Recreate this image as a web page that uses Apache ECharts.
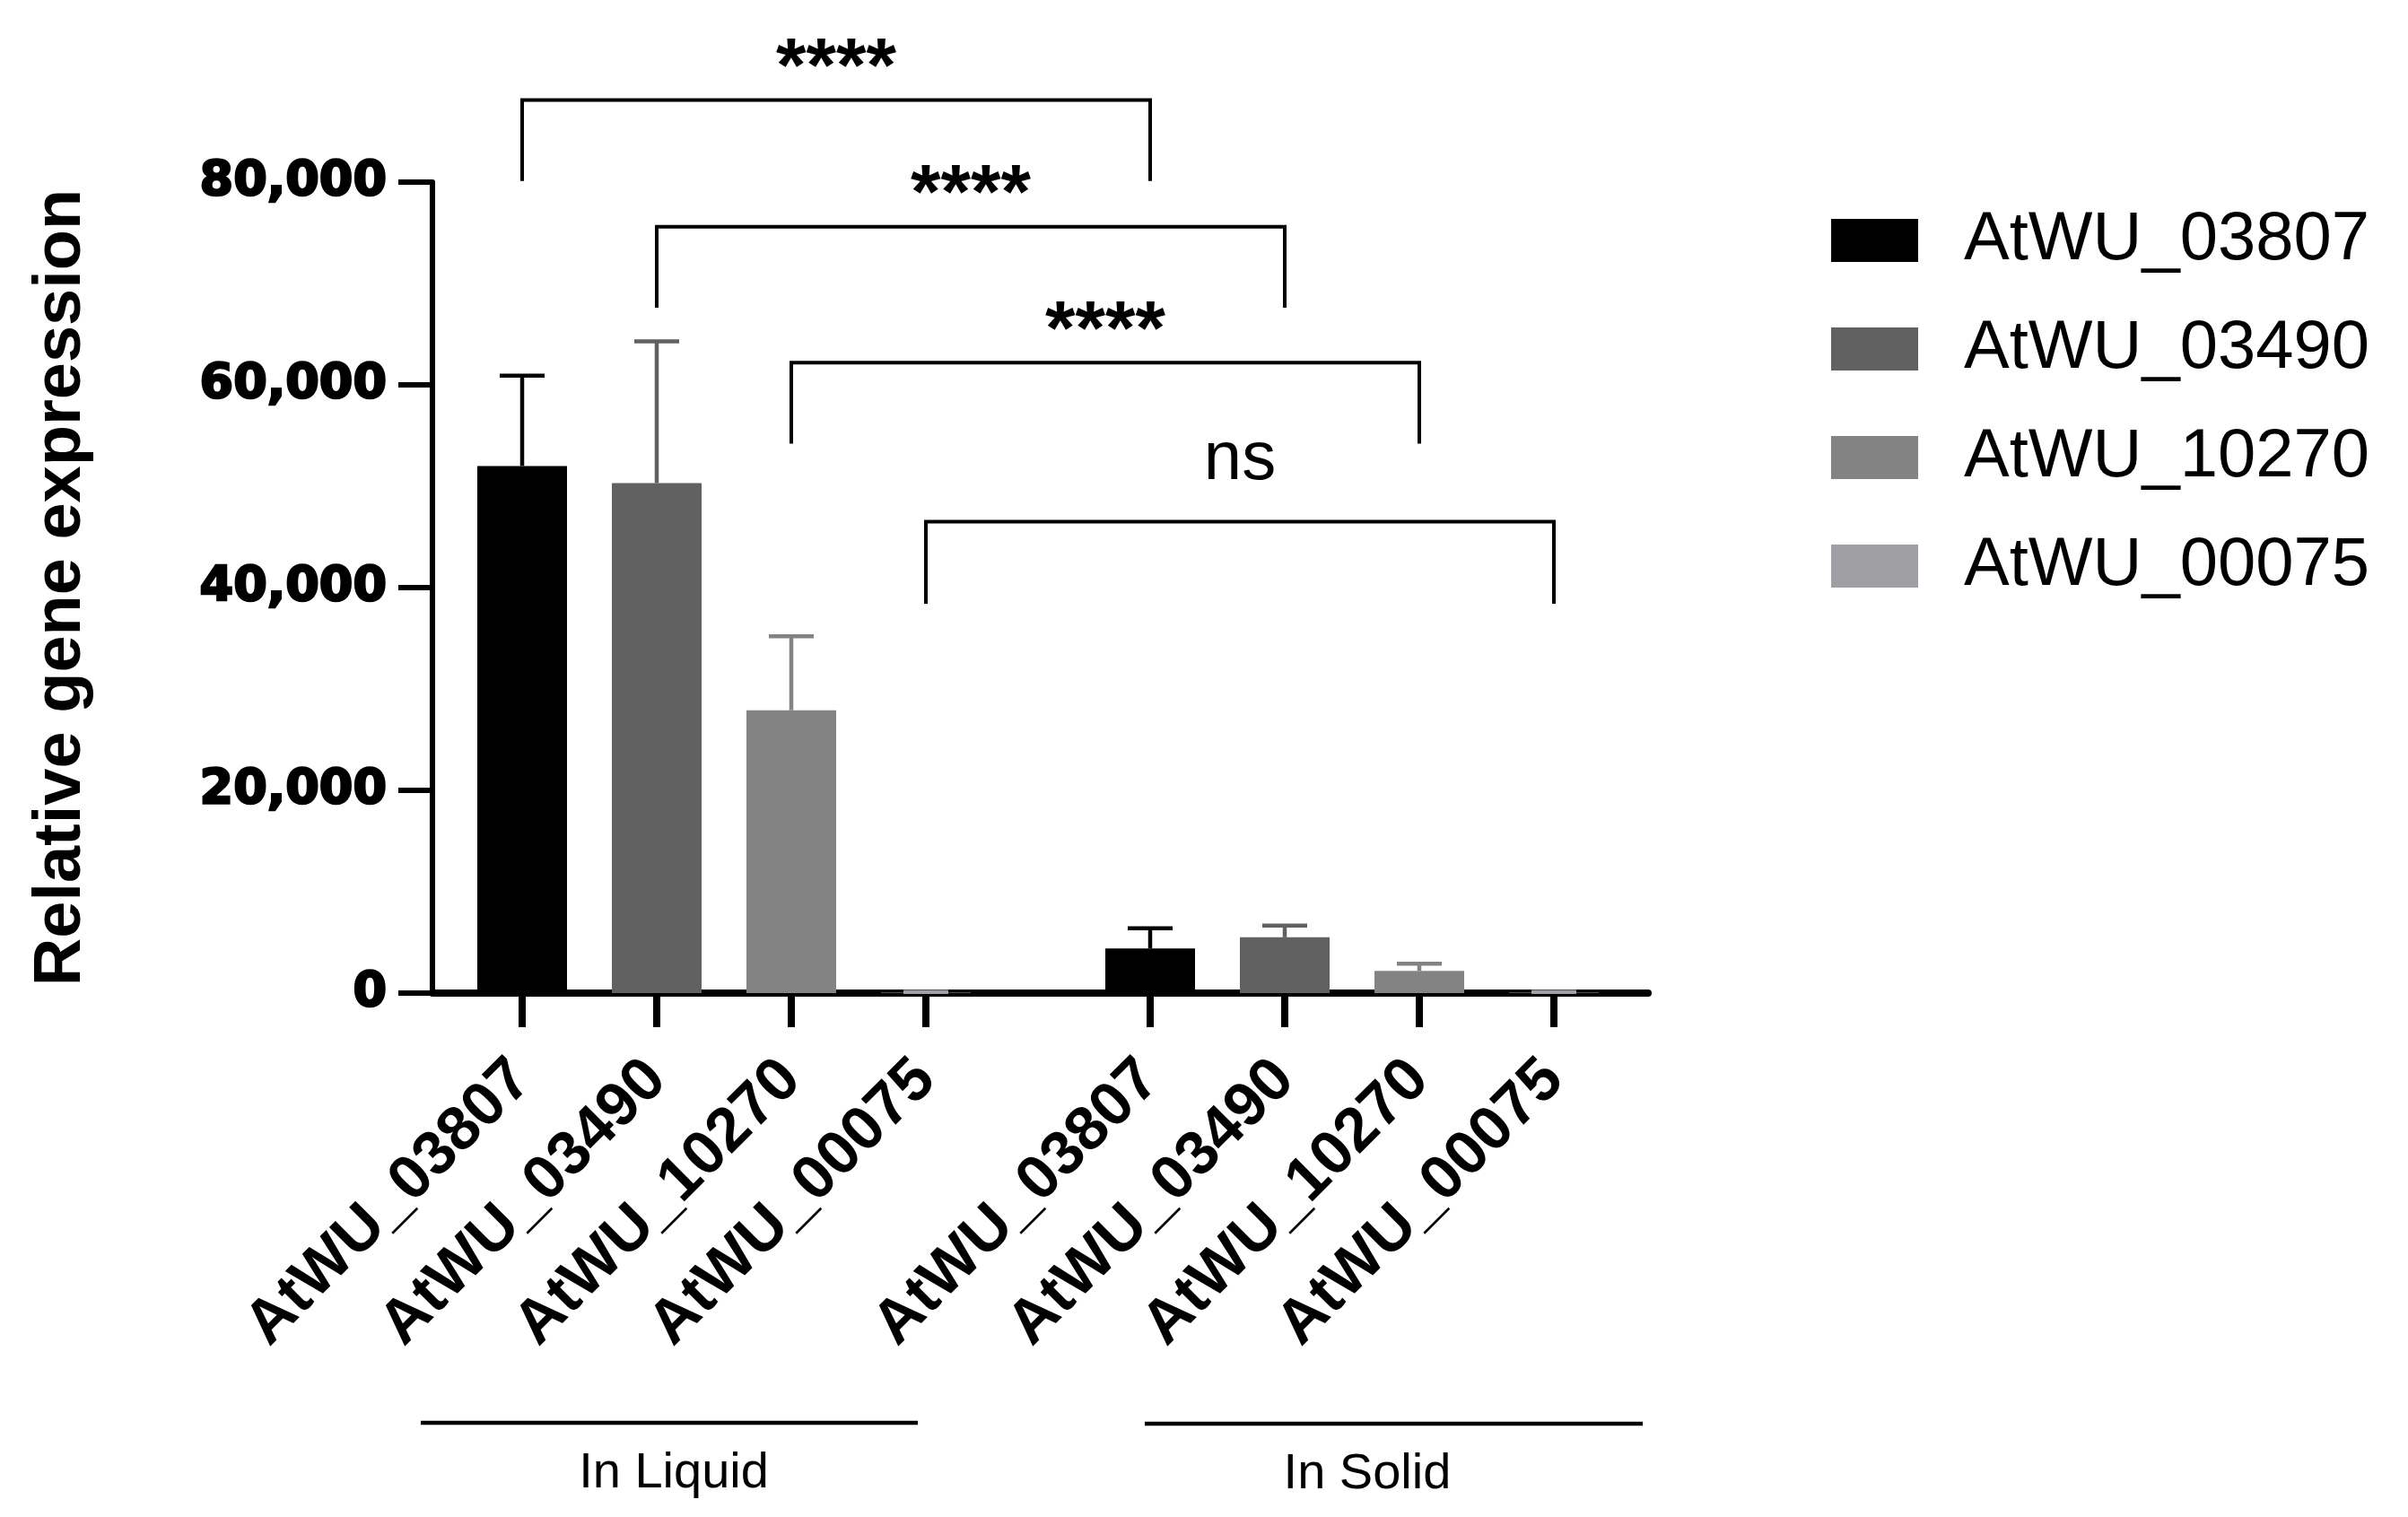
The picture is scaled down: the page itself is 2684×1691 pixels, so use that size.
<!DOCTYPE html>
<html>
<head>
<meta charset="utf-8">
<script src="https://cdn.jsdelivr.net/npm/echarts@6/dist/echarts.min.js"></script>
<style>
html,body{margin:0;padding:0;background:#fff;}
#chart{width:2684px;height:1691px;}
</style>
</head>
<body>
<div id="chart"></div>
<script>
// ---------- data ----------
const categories = ['AtWU_03807', 'AtWU_03490', 'AtWU_10270', 'AtWU_00075'];
const conditions = ['In Liquid', 'In Solid'];
const liquidMean = [52000, 50300, 27900, 40];
const liquidSD   = [8900, 14000, 7300, 60];
const solidMean  = [4400, 5500, 2200, 40];
const solidSD    = [2000, 1150, 700, 60];
const yTicks = [0, 20000, 40000, 60000, 80000];
const comparisons = ['****', '****', '****', 'ns'];
const bracketTop = [88100, 75600, 62200, 46500];
const bracketLeg = [80100, 67600, 54200, 38400];

// ---------- layout (positions on the x value axis, styles) ----------
const slotPos = [0, 3, 6, 9, 14, 17, 20, 23];
const xMin = -2, xMax = 25.1;
const colors = ['#000000', '#616161', '#838383', '#a0a0a4'];
const FONT = '"Liberation Sans", Arial, sans-serif';

const chart = echarts.init(document.getElementById('chart'), null, {renderer: 'canvas'});

const barSeries = categories.map((name, i) => ({
  name: name,
  type: 'bar',
  barWidth: 100,
  barGap: '-100%',
  itemStyle: {color: colors[i]},
  data: [[slotPos[i], liquidMean[i]], [slotPos[4 + i], solidMean[i]]],
  z: 2
}));

const errData = [];
categories.forEach((n, i) => {
  errData.push([slotPos[i], liquidMean[i], liquidSD[i], i]);
  errData.push([slotPos[4 + i], solidMean[i], solidSD[i], i]);
});

const errSeries = {
  name: 'err',
  type: 'custom',
  clip: false,
  z: 5,
  data: errData,
  renderItem: function (params, api) {
    const x = api.value(0), m = api.value(1), s = api.value(2), g = api.value(3);
    const p0 = api.coord([x, m]);
    const p1 = api.coord([x, m + s]);
    const st = {stroke: colors[g], lineWidth: 4.5, fill: null};
    return {
      type: 'group',
      children: [
        {type: 'line', shape: {x1: p0[0], y1: p0[1], x2: p1[0], y2: p1[1]}, style: st},
        {type: 'line', shape: {x1: p1[0] - 25, y1: p1[1], x2: p1[0] + 25, y2: p1[1]}, style: st}
      ]
    };
  }
};

const brData = comparisons.map((c, i) => [slotPos[i], slotPos[4 + i], bracketTop[i], bracketLeg[i], i]);
const bracketSeries = {
  name: 'brackets',
  type: 'custom',
  clip: false,
  z: 6,
  data: brData,
  renderItem: function (params, api) {
    const a = api.coord([api.value(0), api.value(2)]);
    const b = api.coord([api.value(1), api.value(3)]);
    const idx = api.value(4);
    const lab = comparisons[idx];
    const isNs = lab === 'ns';
    const topY = a[1], legY = b[1];
    return {
      type: 'group',
      children: [
        {type: 'polyline', shape: {points: [[a[0], legY], [a[0], topY], [b[0], topY], [b[0], legY]]},
         style: {stroke: '#000', lineWidth: 4, fill: null}},
        {type: 'text', style: {
          text: lab, x: (a[0] + b[0]) / 2, y: topY - (isNs ? 69 : 33),
          align: 'center', verticalAlign: 'middle',
          textAlign: 'center', textVerticalAlign: 'middle',
          font: (isNs ? 'normal 76px ' : 'bold 86px ') + FONT, fill: '#000'}}
      ]
    };
  }
};

const option = {
  backgroundColor: '#ffffff',
  animation: false,
  grid: {left: 482, right: 847, top: 203, bottom: 584, containLabel: false},
  legend: {
    data: categories,
    orient: 'vertical',
    left: 2036,
    top: 225,
    itemWidth: 97,
    itemHeight: 48,
    itemGap: 45,
    icon: 'rect',
    textStyle: {fontSize: 76, fontFamily: FONT, color: '#000', padding: [0, 0, 0, 46]}
  },
  xAxis: {
    type: 'value',
    min: xMin,
    max: xMax,
    splitLine: {show: false},
    axisLine: {show: true, onZero: false, lineStyle: {color: '#000', width: 8}},
    axisTick: {show: true, customValues: slotPos, length: 38, lineStyle: {color: '#000', width: 8}},
    axisLabel: {
      show: true,
      customValues: slotPos,
      rotate: 45,
      margin: 86,
      color: '#000',
      fontFamily: FONT,
      fontWeight: 'bold',
      fontSize: 69,
      formatter: function (v) {
        let best = 0, d = Infinity;
        slotPos.forEach((p, i) => { if (Math.abs(p - v) < d) { d = Math.abs(p - v); best = i; } });
        return categories[best % 4];
      }
    }
  },
  yAxis: {
    type: 'value',
    min: yTicks[0],
    max: yTicks[yTicks.length - 1],
    interval: yTicks[1] - yTicks[0],
    splitLine: {show: false},
    axisLine: {show: true, onZero: false, lineStyle: {color: '#000', width: 6}},
    axisTick: {show: true, length: 38, lineStyle: {color: '#000', width: 6}},
    axisLabel: {
      margin: 51,
      color: '#000',
      fontFamily: '"DejaVu Sans", sans-serif',
      fontWeight: 'bold',
      fontSize: 54,
      textBorderColor: '#000',
      textBorderWidth: 2.5,
      formatter: function (v) { return v.toLocaleString('en-US'); }
    },
    name: 'Relative gene expression',
    nameLocation: 'middle',
    nameGap: 376,
    nameTextStyle: {fontFamily: FONT, fontWeight: 'bold', fontSize: 74, color: '#000'}
  },
  graphic: [
    {type: 'line', shape: {x1: 469, y1: 1586, x2: 1023, y2: 1586}, style: {stroke: '#000', lineWidth: 4.5}},
    {type: 'line', shape: {x1: 1276, y1: 1587, x2: 1831, y2: 1587}, style: {stroke: '#000', lineWidth: 4.5}},
    {type: 'text', style: {text: conditions[0], x: 751, y: 1643, align: 'center', verticalAlign: 'middle',
      textAlign: 'center', textVerticalAlign: 'middle', font: 'normal 56px ' + FONT, fill: '#000'}},
    {type: 'text', style: {text: conditions[1], x: 1524, y: 1644, align: 'center', verticalAlign: 'middle',
      textAlign: 'center', textVerticalAlign: 'middle', font: 'normal 56px ' + FONT, fill: '#000'}}
  ],
  series: barSeries.concat([errSeries, bracketSeries])
};

chart.setOption(option);
</script>
</body>
</html>
